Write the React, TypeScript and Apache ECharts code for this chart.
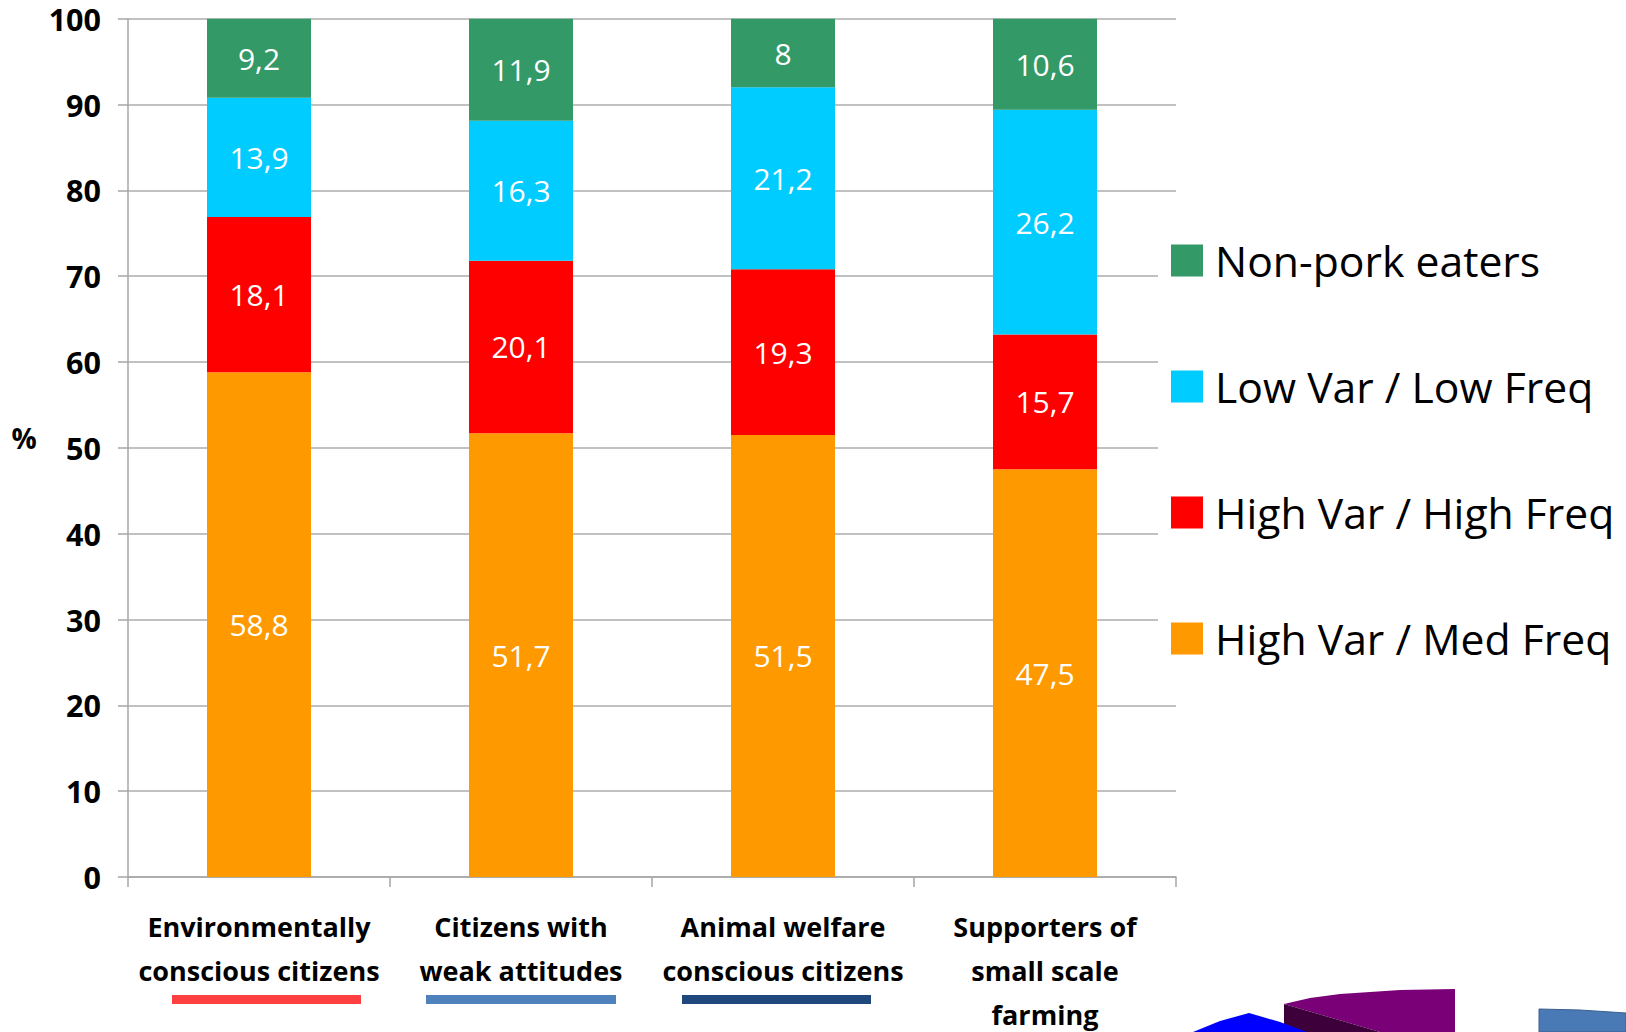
import React, { useEffect, useRef } from "react";
import * as echarts from "echarts";

const categories = [
  "Environmentally\nconscious citizens",
  "Citizens with\nweak attitudes",
  "Animal welfare\nconscious citizens",
  "Supporters of\nsmall scale\nfarming",
];
const highVarMedFreq = [58.8, 51.7, 51.5, 47.5];
const highVarHighFreq = [18.1, 20.1, 19.3, 15.7];
const lowVarLowFreq = [13.9, 16.3, 21.2, 26.2];
const nonPorkEaters = [9.2, 11.9, 8, 10.6];
const seriesNames = [
  "High Var / Med Freq",
  "High Var / High Freq",
  "Low Var / Low Freq",
  "Non-pork eaters",
];
const seriesColors = ["#FF9900", "#FF0000", "#00CCFF", "#339966"];
const yTicks = { min: 0, max: 100, interval: 10 };

const FONT = "'Open Sans', 'Noto Sans', sans-serif";

export default function App() {
  const ref = useRef<HTMLDivElement>(null);
  useEffect(() => {
    document.body.style.margin = "0";
    const chart = echarts.init(ref.current!, null, { renderer: "svg" });
    const values = [highVarMedFreq, highVarHighFreq, lowVarLowFreq, nonPorkEaters];
    const series = values.map((data, i) => ({
      name: seriesNames[i],
      type: "bar",
      stack: "total",
      barWidth: 104,
      data,
      itemStyle: { color: seriesColors[i] },
      label: {
        show: true,
        position: "inside",
        color: "#ffffff",
        fontSize: 30,
        fontFamily: FONT,
        formatter: (p: any) => String(p.value).replace(".", ","),
      },
    }));
    chart.setOption({
      animation: false,
      backgroundColor: "#ffffff",
      grid: {
        left: 128,
        top: 18.7,
        right: 450,
        bottom: 155,
        containLabel: false,
        outerBoundsMode: "none",
      },
      xAxis: {
        type: "category",
        data: categories,
        axisLine: { lineStyle: { color: "#A6A6A6", width: 1.5 } },
        axisTick: { show: true, length: 10, lineStyle: { color: "#A6A6A6", width: 1.5 } },
        axisLabel: {
          color: "#000",
          fontSize: 27,
          fontWeight: "bold",
          fontFamily: FONT,
          lineHeight: 44,
          margin: 27,
          interval: 0,
        },
      },
      yAxis: {
        type: "value",
        min: yTicks.min,
        max: yTicks.max,
        interval: yTicks.interval,
        axisLine: { show: true, lineStyle: { color: "#A6A6A6", width: 1.5 } },
        axisTick: { show: true, length: 10, lineStyle: { color: "#A6A6A6", width: 1.5 } },
        splitLine: { show: true, lineStyle: { color: "#ADADAD", width: 1.5 } },
        axisLabel: {
          color: "#000",
          fontSize: 30.5,
          lineHeight: 30,
          padding: [5, 0, 0, 0],
          fontWeight: "bold",
          fontFamily: FONT,
          margin: 27,
        },
      },
      legend: {
        orient: "vertical",
        left: 1158,
        top: 226,
        padding: 13,
        backgroundColor: "#ffffff",
        itemWidth: 32,
        itemHeight: 32,
        itemGap: 83,
        icon: "rect",
        data: [seriesNames[3], seriesNames[2], seriesNames[1], seriesNames[0]],
        textStyle: {
          color: "#000",
          fontSize: 42.7,
          fontFamily: FONT,
          lineHeight: 32,
          padding: [0, 0, 0, 7],
        },
      },
      graphic: [
        {
          type: "text",
          x: 24,
          y: 438,
          style: {
            text: "%",
            fill: "#000",
            fontSize: 28,
            fontWeight: "bold",
            fontFamily: FONT,
            align: "center",
            verticalAlign: "middle",
          },
        },
        { type: "rect", shape: { x: 172, y: 995, width: 189, height: 9 }, style: { fill: "#FF4040" } },
        { type: "rect", shape: { x: 426, y: 995, width: 190, height: 9 }, style: { fill: "#4F81BD" } },
        { type: "rect", shape: { x: 682, y: 995, width: 189, height: 9 }, style: { fill: "#1F497D" } },
        {
          type: "polygon",
          shape: {
            points: [
              [1284, 1004], [1310, 998], [1340, 994], [1370, 992], [1400, 990], [1455, 989],
              [1455, 1032], [1380, 1032],
            ],
          },
          style: { fill: "#7A0077" },
        },
        {
          type: "polygon",
          shape: { points: [[1284, 1004], [1380, 1032], [1284, 1032]] },
          style: { fill: "#3D003A" },
        },
        {
          type: "polygon",
          shape: { points: [[1193, 1032], [1220, 1021], [1249, 1013], [1280, 1022], [1307, 1032]] },
          style: { fill: "#0000FF" },
        },
        {
          type: "polygon",
          shape: {
            points: [[1539, 1009], [1580, 1010], [1626, 1013], [1626, 1032], [1539, 1032]],
          },
          style: { fill: "#4A7AB6", stroke: "#3A5F8F", lineWidth: 1 },
        },
      ],
      series,
    });
    return () => chart.dispose();
  }, []);
  return (
    <div
      ref={ref}
      style={{ position: "fixed", left: 0, top: 0, width: 1626, height: 1032 }}
    />
  );
}
